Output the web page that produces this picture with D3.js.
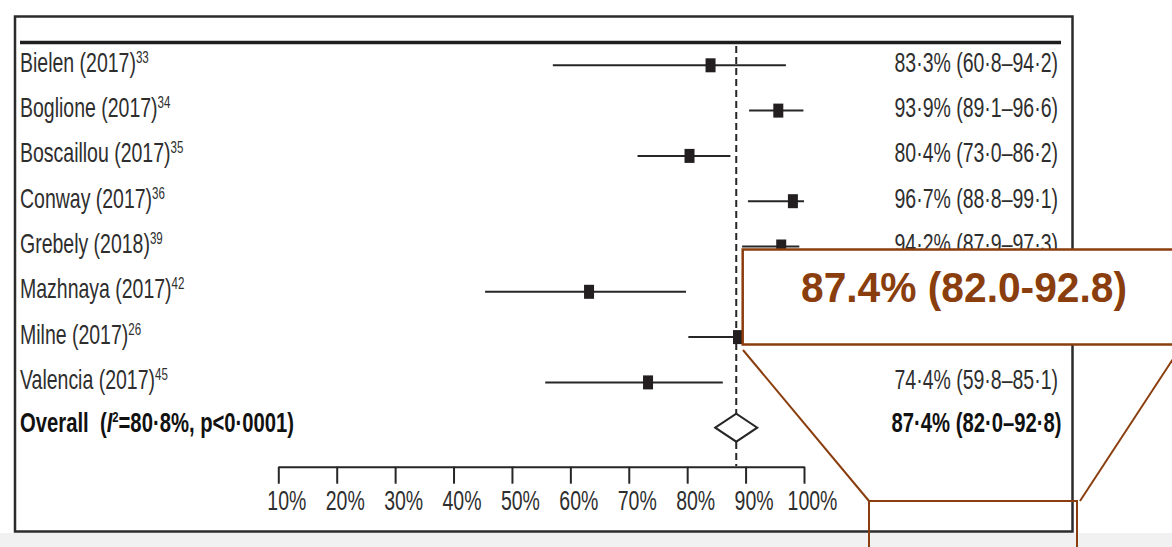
<!DOCTYPE html>
<html>
<head>
<meta charset="utf-8">
<script src="https://cdn.jsdelivr.net/npm/d3@7"></script>
<style>
  html, body { margin: 0; padding: 0; background: #ffffff; }
  svg { display: block; }
</style>
</head>
<body>
<svg id="chart" width="1172" height="547"></svg>
<script>
// ---------------- data ----------------
const studies = ["Bielen (2017)", "Boglione (2017)", "Boscaillou (2017)", "Conway (2017)",
                 "Grebely (2018)", "Mazhnaya (2017)", "Milne (2017)", "Valencia (2017)"];
const refs = ["33", "34", "35", "36", "39", "42", "26", "45"];
// plotted positions
const estimates = [84.0, 95.6, 80.4, 98.1, 96.1, 63.2, 88.7, 73.3];
const lowerCI   = [57.0, 90.6, 71.5, 90.4, 89.4, 45.4, 80.2, 55.7];
const upperCI   = [96.9, 99.9, 87.4, 100.0, 99.2, 79.8, 96.0, 86.1];
// printed estimates (Mazhnaya and Milne are hidden under the callout in the source)
const ciLabels = ["83·3% (60·8–94·2)", "93·9% (89·1–96·6)", "80·4% (73·0–86·2)", "96·7% (88·8–99·1)",
                  "94·2% (87·9–97·3)", "", "", "74·4% (59·8–85·1)"];
const overallLabel = "Overall";
const overallStats = ["I", "2", "=80·8%, p<0·0001)"];
const overallEst = 88.4, overallLo = 84.8, overallHi = 92.0;
const overallText = "87·4% (82·0–92·8)";
const calloutText = "87.4% (82.0-92.8)";
const tickValues = [10, 20, 30, 40, 50, 60, 70, 80, 90, 100];

// ---------------- layout ----------------
const svg = d3.select("#chart");
const ink = "#262626";
const brown = "#8a3d0d";
const FS = 27;
const SX = 0.722;           // horizontal compression for the condensed journal face
const SXB = 0.75;
const fontMain = "'Liberation Sans', Arial, sans-serif";

svg.append("rect").attr("x", 0).attr("y", 533).attr("width", 1172).attr("height", 14).attr("fill", "#f1f1f1");

const x = d3.scaleLinear().domain([10, 100]).range([278.3, 804]);
const rowKeys = studies.concat(["__overall"]);
const y = d3.scalePoint().domain(rowKeys).range([65.3, 427.7]);

// frame
svg.append("rect").attr("x", 15).attr("y", 16.5).attr("width", 1057.5).attr("height", 515)
  .attr("fill", "none").attr("stroke", "#2b2b2b").attr("stroke-width", 2.5);
svg.append("line").attr("x1", 20).attr("x2", 1061).attr("y1", 42.6).attr("y2", 42.6)
  .attr("stroke", "#1e1e1e").attr("stroke-width", 3.5);

// reference dashed line at the pooled estimate
svg.append("line").attr("x1", x(overallEst)).attr("x2", x(overallEst))
  .attr("y1", 46).attr("y2", 466)
  .attr("stroke", ink).attr("stroke-width", 2).attr("stroke-dasharray", "7,4");

// axis
const axis = d3.axisBottom(x).tickValues(tickValues).tickSize(17).tickSizeOuter(0)
  .tickPadding(8).tickFormat(d => d + "%");
const gAxis = svg.append("g").attr("transform", "translate(0,466.7)").call(axis);
gAxis.select(".domain").attr("stroke", ink).attr("stroke-width", 2);
gAxis.selectAll(".tick line").attr("stroke", ink).attr("stroke-width", 2);
gAxis.selectAll(".tick text")
  .attr("font-family", fontMain).attr("font-size", FS).attr("fill", "#2e2e2e")
  .attr("y", 0).attr("dy", 0)
  .attr("transform", `translate(8,43.5) scale(${SX},1)`);

// study rows
const rows = svg.append("g");
studies.forEach((s, i) => {
  const cy = y(s);
  rows.append("line").attr("x1", x(lowerCI[i])).attr("x2", x(upperCI[i]))
    .attr("y1", cy).attr("y2", cy).attr("stroke", ink).attr("stroke-width", 2);
  rows.append("rect").attr("x", x(estimates[i]) - 5).attr("y", cy - 7)
    .attr("width", 10).attr("height", 14).attr("fill", "#231f20");

  const t = rows.append("text")
    .attr("transform", `translate(20,${cy + 6.5}) scale(${SX},1)`)
    .attr("font-family", fontMain).attr("font-size", FS).attr("fill", "#2e2e2e");
  t.append("tspan").text(s);
  t.append("tspan").attr("font-size", 16).attr("dy", -9).text(refs[i]);

  if (ciLabels[i]) {
    rows.append("text")
      .attr("transform", `translate(1058,${cy + 6.5}) scale(${SX},1)`)
      .attr("text-anchor", "end")
      .attr("font-family", fontMain).attr("font-size", FS).attr("fill", "#2e2e2e")
      .text(ciLabels[i]);
  }
});

// overall row
const oy = y("__overall");
svg.append("path")
  .attr("d", `M${x(overallLo)},${oy} L${x(overallEst)},${oy - 14} L${x(overallHi)},${oy} L${x(overallEst)},${oy + 14} Z`)
  .attr("fill", "#ffffff").attr("stroke", ink).attr("stroke-width", 2);

const ot = svg.append("text")
  .attr("transform", `translate(20,${oy + 4.5}) scale(${SXB},1)`)
  .attr("font-family", fontMain).attr("font-size", FS).attr("font-weight", "bold").attr("fill", "#111");
ot.append("tspan").text(overallLabel + "\u00a0\u00a0(");
ot.append("tspan").attr("font-style", "italic").text(overallStats[0]);
ot.append("tspan").attr("font-size", 15).attr("dy", -10).text(overallStats[1]);
ot.append("tspan").attr("dy", 10).text(overallStats[2]);

svg.append("text")
  .attr("transform", `translate(1061.5,${oy + 4.5}) scale(${SXB},1)`)
  .attr("text-anchor", "end")
  .attr("font-family", fontMain).attr("font-size", FS).attr("font-weight", "bold").attr("fill", "#111")
  .text(overallText);

// ---------------- callout ----------------
const co = svg.append("g");
co.append("rect").attr("x", 742.7).attr("y", 249.5).attr("width", 440).attr("height", 95)
  .attr("fill", "#ffffff").attr("stroke", brown).attr("stroke-width", 2.5);
co.append("text").attr("x", 964).attr("y", 301.5).attr("text-anchor", "middle")
  .attr("font-family", fontMain).attr("font-weight", "bold").attr("font-size", 42)
  .attr("textLength", 326).attr("lengthAdjust", "spacingAndGlyphs")
  .attr("fill", brown).text(calloutText);
co.append("line").attr("x1", 743).attr("y1", 350).attr("x2", 869).attr("y2", 501)
  .attr("stroke", brown).attr("stroke-width", 2);
co.append("line").attr("x1", 1173).attr("y1", 359).attr("x2", 1080).attr("y2", 501)
  .attr("stroke", brown).attr("stroke-width", 2);
co.append("path").attr("d", "M869,550 L869,501 L1077,501 L1077,550")
  .attr("fill", "none").attr("stroke", brown).attr("stroke-width", 2);
</script>
</body>
</html>
